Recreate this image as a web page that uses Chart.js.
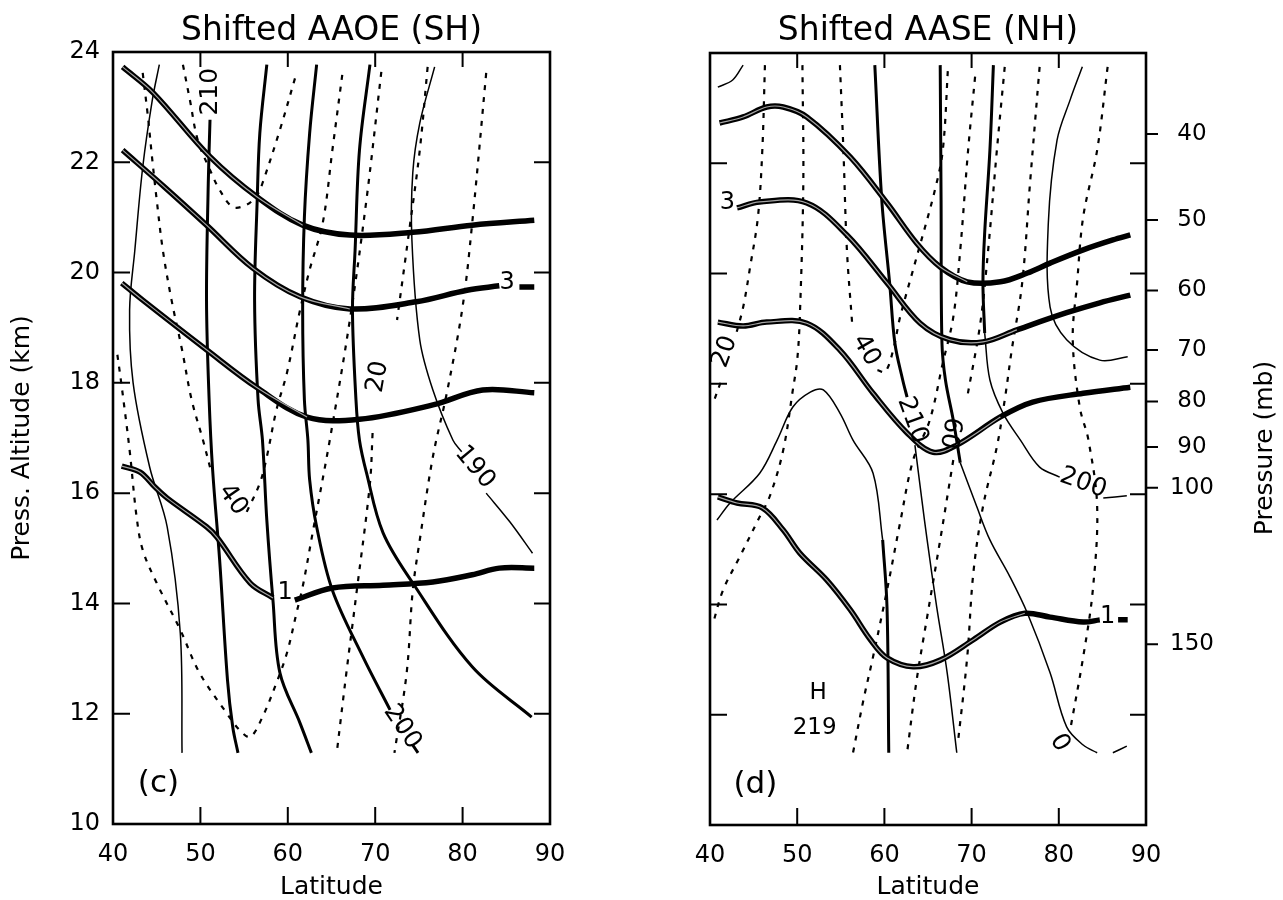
<!DOCTYPE html>
<html lang="en">
<head>
<meta charset="UTF-8">
<title>Shifted AAOE (SH) / Shifted AASE (NH)</title>
<script src="https://cdn.jsdelivr.net/npm/chart.js@4.4.1/dist/chart.umd.min.js"></script>
<style>
    html, body { margin: 0; padding: 0; background: #fff; }
    body { width: 1283px; height: 900px; position: relative; overflow: hidden; }
    .panel { position: absolute; top: 0; height: 900px; }
    #wrapC { left: 0; width: 640px; }
    #wrapD { left: 640px; width: 643px; }
</style>
</head>
<body>
<div class="panel" id="wrapC"><canvas id="chartC" width="640" height="900"></canvas></div>
<div class="panel" id="wrapD"><canvas id="chartD" width="643" height="900"></canvas></div>
<script>
// axis ticks
const altTicks = [10, 12, 14, 16, 18, 20, 22, 24];
const latTicks = [40, 50, 60, 70, 80, 90];
const pressTicks = [40, 50, 60, 70, 80, 90, 100, 150];

// ---- (c) Shifted AAOE (SH), points are [latitude, pressure altitude km], null = gap
const sh_q1 = [[41.0,16.49],[43.1,16.38],[44.8,16.11],[46.2,15.91],[50.7,15.39],[51.9,15.20],[55.7,14.37],[58.3,14.10],null,[60.8,14.06],[65.1,14.28],[70.9,14.33],[76.6,14.39],[81.1,14.52],[84.2,14.64],[88.2,14.64]];
const sh_q2 = [[41.0,19.81],[43.4,19.50],[50.7,18.60],[56.5,17.91],[62.2,17.38],[68.2,17.34],[76.6,17.60],[82.3,17.87],[88.2,17.82]];
const sh_q3 = [[41.1,22.22],[45.9,21.55],[50.7,20.86],[56.0,20.08],[61.4,19.56],[67.1,19.34],[74.7,19.47],[80.5,19.68],[84.2,19.76],null,[86.5,19.74],[88.2,19.74]];
const sh_q4 = [[41.1,23.73],[44.6,23.26],[51.1,22.10],[56.5,21.37],[61.7,20.86],[67.1,20.68],[74.3,20.73],[81.1,20.86],[88.2,20.95]];

const sh_t1 = [[45.3,23.77],[44.5,23.13],[43.4,21.91],[42.5,20.41],[41.9,19.32],[42.3,18.0],[44.2,16.47],[46.2,15.39],[47.7,13.46],[47.9,11.29]];
const sh_t2 = [[51.1,22.77],[50.9,21.62],[50.7,19.50],[51.0,17.69],[51.4,16.42],[52.2,14.79],[53.1,12.61],[53.7,11.76],[54.3,11.29]];
const sh_t3 = [[57.6,23.77],[56.8,22.53],[56.5,21.32],[56.2,19.50],[56.6,17.69],[57.1,16.96],[57.6,15.51],[58.3,14.06],[59.1,12.74],[61.4,11.83],[62.7,11.29]];
const sh_t4 = [[63.3,23.77],[62.5,22.53],[61.9,21.01],[61.7,19.32],[61.9,17.69],[62.3,16.96],[62.5,16.24],[63.3,15.39],[65.1,14.24],[68.6,13.03],[71.7,12.07],null,[74.3,11.43],[74.9,11.29]];
const sh_t5 = [[69.4,23.77],[68.2,22.22],[67.7,20.41],[67.4,19.32],[67.8,17.69],[68.2,16.96],[69.0,16.37],[70.9,15.28],[74.3,14.37],[81.1,12.85],[87.9,11.94]];
const sh_t6 = [[76.8,23.73],[75.1,22.71],[74.3,21.81],[74.2,20.59],[75.1,18.78],[76.6,17.87],[78.9,16.96],[79.9,16.75],null,[82.7,16.0],[85.4,15.48],[88.0,14.91]];

const sh_w1 = [[48.0,23.77],[48.8,23.13],[49.7,22.40],[51.1,21.86],[52.2,21.50],[53.7,21.19],[55.3,21.23],[56.5,21.41],[57.1,21.62],[59.1,22.59],[61.0,23.62]];
const sh_w2 = [[43.4,23.62],[44.0,22.82],[44.5,22.04],[45.0,21.32],[45.7,20.41],[46.7,19.50],[47.9,18.60],[49.0,17.69],[50.3,16.96],[51.1,16.47],null,[55.3,15.66],[56.8,16.18],[57.6,16.66],[58.7,17.51],[59.9,18.18],[61.4,19.32],[62.5,20.05],[64.0,20.90],[65.1,22.22],[66.3,23.67]];
const sh_w3 = [[40.5,18.51],[41.0,17.93],[41.9,16.78],[42.7,15.57],[43.4,14.97],[45.0,14.37],[47.7,13.52],[49.9,12.74],[53.0,12.01],[54.5,11.70],[55.7,11.58],[57.1,11.94],[58.7,12.56],[59.9,13.10],[61.0,13.83],[61.7,14.30],[62.9,15.33],[64.8,16.96],[67.1,19.14],[69.0,21.32],[70.7,23.64]];
const sh_w4 = [[76.0,23.73],[75.1,22.22],[73.9,20.77],[72.5,19.14],null,[69.7,17.09],[69.4,16.18],[67.9,14.24],[66.7,12.74],[65.6,11.29]];
const sh_w5 = [[82.7,23.62],[81.1,20.90],[80.0,19.38],[78.2,17.82],[76.6,16.66],[75.1,15.15],[74.3,14.24],[73.6,12.74],[72.2,11.29]];

const sh_labels = [['3',85.1,19.81],['1',59.7,14.19],['210',51.1,23.28],['40',53.7,15.88],['20',70.3,18.11],['190',81.4,16.47],['200',73.1,11.76]];

// ---- (d) Shifted AASE (NH)
const nh_q1 = [[40.9,15.95],[43.1,15.84],[46.0,15.75],[48.4,15.35],[50.3,14.93],[53.4,14.44],[56.1,13.90],[58.4,13.36],[60.3,13.03],[63.3,12.87],[66.4,12.99],[70.2,13.36],[73.3,13.68],[76.1,13.84],[79.0,13.77],[82.8,13.68],[84.7,13.72],null,[86.8,13.72],[87.9,13.72]];
const nh_q2 = [[40.9,19.12],[43.8,19.05],[46.5,19.12],[51.1,19.10],[54.9,18.61],[58.7,17.83],[62.6,17.11],[65.6,16.76],[68.3,16.89],[73.3,17.40],[77.0,17.67],[82.8,17.83],[88.2,17.94]];
const nh_q3 = [[43.1,21.19],[45.7,21.30],[51.1,21.28],[55.7,20.70],[60.3,19.83],[64.1,19.10],[67.5,18.80],[71.3,18.76],[75.2,18.98],[80.9,19.29],[84.7,19.47],[88.2,19.61]];
const nh_q4 = [[41.1,22.73],[43.8,22.84],[46.5,23.02],[48.4,23.02],[51.1,22.84],[56.1,22.11],[60.3,21.28],[63.7,20.55],[66.4,20.12],[69.5,19.85],[73.3,19.85],[76.4,20.01],[79.0,20.19],[82.8,20.43],[86.2,20.61],[88.2,20.70]];

const nh_t1 = [[58.9,23.78],[59.7,21.33],[60.6,19.83],[61.2,18.74],[62.1,18.07],[62.6,17.76]];
const nh_t2 = [[63.5,16.89],[64.3,15.89],[64.9,15.17],[66.0,13.95],[67.2,12.76],[68.3,11.31]];
const nh_t3 = [[66.4,23.78],[66.5,21.33],[66.6,18.74],[67.0,18.07],[67.9,17.34],[68.7,16.57]];
const nh_t4 = [[68.7,16.57],[70.6,15.77],[72.1,15.17],[74.4,14.50],[76.4,13.84],[79.0,12.76],[80.9,11.78],[82.8,11.45],[84.4,11.31],null,[86.2,11.31],[87.8,11.43]];
const nh_t5 = [[72.5,23.78],[72.1,22.24],[71.5,20.74],[71.3,19.83],[71.5,18.92]];
const nh_t6 = [[71.5,18.92],[72.1,18.07],[73.6,17.47],[75.6,16.98],[77.8,16.49],[80.1,16.31],null,[85.1,15.93],[87.8,15.97]];
const nh_t7 = [[82.7,23.75],[81.3,23.15],[79.8,22.42],[78.8,20.92],[79.0,19.39],[80.9,18.80],[84.7,18.43],[87.9,18.49]];
const nh_t8 = [[40.8,15.53],[42.3,15.84],[45.7,16.38],[47.7,16.98],[49.5,17.58],[51.5,17.85],[53.0,17.89],[54.9,17.47],[56.4,16.98],[58.7,16.38],[59.8,15.17]];
const nh_t9 = [[59.8,15.17],[60.3,13.95],[60.5,11.31]];
const nh_t10 = [[40.9,23.38],[42.6,23.51],[43.8,23.78]];

const nh_w1 = [[46.3,23.78],[46.0,22.24],[45.5,21.03],[44.6,20.12],[43.8,19.39],[42.9,18.85],null,[41.2,18.02],[40.5,17.71]];
const nh_w2 = [[50.6,23.78],[50.7,21.64],[50.3,19.21],[50.0,18.43],[49.5,17.89],[48.4,16.80],[46.9,15.98],[45.7,15.59],[43.4,14.86],[41.5,14.26],[40.3,13.63]];
const nh_w3 = [[54.9,23.78],[55.3,22.24],[55.7,20.43],[56.3,19.10],null,[59.2,18.25],[60.1,18.22],[61.0,18.61],[61.8,19.21],[63.7,20.30],[65.8,21.52],[66.7,22.24],[67.3,23.75]];
const nh_w4 = [[70.4,23.57],[69.6,22.24],[68.7,20.43],[67.9,19.21],[66.7,18.38],[65.2,17.34],[63.3,16.62],[61.8,15.48],[60.3,14.26],[58.7,13.05],[57.6,12.27],[56.4,11.31]];
const nh_w5 = [[73.8,23.75],[72.9,22.24],[71.9,20.43],[71.0,19.10],[69.5,17.76],null,[67.9,16.62],[66.4,15.17],[64.9,13.77],[63.7,12.63],[62.6,11.31]];
const nh_w6 = [[77.8,23.75],[76.7,21.64],[75.8,19.83],[74.6,18.61],[73.8,17.71],[72.9,16.86],[71.3,15.77],[70.2,14.57],[69.5,13.05],[68.4,11.45]];
const nh_w7 = [[85.6,23.75],[84.4,22.24],[82.8,21.03],[82.1,19.83],[81.6,18.80],[82.4,17.58],[83.4,16.98],[84.4,15.77],[83.9,14.26],[82.8,13.05],[81.3,11.72]];

const nh_labels = [['3',42.0,21.28],['1',85.6,13.77],['20',41.7,18.58],['40',57.9,18.61],['210',63.2,17.34],['60',67.5,17.11],['200',82.8,16.20],['0',80.1,11.49],['H',52.4,12.39],['219',52.0,11.76]];

// label rotations (deg) and sizes, same order as the label lists
const shRot = [0, 0, -90, 55, -80, 50, 56];
const shSize = [24, 24, 25, 25, 25, 25, 25];
const nhRot = [0, 0, -70, 60, 70, 100, 20, 60, 0, 0];
const nhSize = [24, 24, 25, 25, 25, 25, 25, 25, 23, 23];

// latitude where the outlined (double) look of each thick contour stops
const shOutlineTo = [58.3, 62.2, 67.1, 61.7];
const nhOutlineTo = [76.1, 73.3, 77.0, 69.5];

const FONT = '"DejaVu Sans", sans-serif';

const lineStyles = {
    pv:    { borderColor: '#000', borderWidth: 5.5 },
    pvIn:  { borderColor: '#a5a5a5', borderWidth: 1.2 },
    thick: { borderColor: '#000', borderWidth: 3 },
    thin:  { borderColor: '#000', borderWidth: 1.5 },
    dash:  { borderColor: '#000', borderWidth: 2.2, borderDash: [5, 7] }
};

function toPts(arr) {
    return arr.map(p => p ? { x: p[0], y: p[1] } : { x: null, y: null });
}

function line(arr, kind) {
    return Object.assign({
        data: toPts(arr), showLine: true, pointRadius: 0, fill: false,
        tension: 0.35, borderJoinStyle: 'round', borderCapStyle: 'butt'
    }, lineStyles[kind]);
}

function pvLines(list, cut) {
    return list.flatMap((a, i) => [
        line(a.filter(p => p && p[0] <= cut[i]), 'pvIn'),
        line(a, 'pv')
    ]);
}

// frame, inside ticks, titles and contour labels
function decoPlugin(cfg) {
    return {
        id: 'deco',
        afterDatasetsDraw(chart) {
            const { ctx, chartArea: a, scales } = chart;
            const sx = scales.x, sy = scales.y;
            ctx.save();
            ctx.strokeStyle = '#000';
            ctx.lineWidth = 2.6;
            ctx.strokeRect(a.left, a.top, a.right - a.left, a.bottom - a.top);

            ctx.lineWidth = 2;
            ctx.beginPath();
            altTicks.slice(1, -1).forEach(v => {
                const py = sy.getPixelForValue(v);
                ctx.moveTo(a.left, py); ctx.lineTo(a.left + 17, py);
                ctx.moveTo(a.right, py); ctx.lineTo(a.right - 16, py);
            });
            latTicks.slice(1, -1).forEach(v => {
                const px = sx.getPixelForValue(v);
                ctx.moveTo(px, a.bottom); ctx.lineTo(px, a.bottom - 17);
                ctx.moveTo(px, a.top); ctx.lineTo(px, a.top + 15);
            });
            if (scales.y2) {
                scales.y2.ticks.forEach(t => {
                    const py = scales.y2.getPixelForValue(t.value);
                    ctx.moveTo(a.right, py); ctx.lineTo(a.right + 12, py);
                });
            }
            ctx.stroke();

            ctx.fillStyle = '#000';
            ctx.textAlign = 'center';
            ctx.textBaseline = 'middle';
            cfg.labels.forEach((l, i) => {
                ctx.save();
                ctx.font = cfg.size[i] + 'px ' + FONT;
                ctx.translate(sx.getPixelForValue(l[1]), sy.getPixelForValue(l[2]));
                ctx.rotate(cfg.rot[i] * Math.PI / 180);
                ctx.fillText(l[0], 0, 0);
                ctx.restore();
            });

            // panel letter
            ctx.font = '31px ' + FONT;
            ctx.fillText(cfg.letter, sx.getPixelForValue(45.2), sy.getPixelForValue(10.72));

            // title
            ctx.font = '33px ' + FONT;
            ctx.textBaseline = 'alphabetic';
            ctx.fillText(cfg.title, (a.left + a.right) / 2, 40);

            // axis titles
            ctx.font = '25px ' + FONT;
            ctx.textBaseline = 'middle';
            ctx.fillText('Latitude', (a.left + a.right) / 2, 887);
            if (cfg.yTitle) {
                ctx.save();
                ctx.translate(cfg.yTitle[1], cfg.yTitle[2]);
                ctx.rotate(-Math.PI / 2);
                ctx.fillText(cfg.yTitle[0], 0, 0);
                ctx.restore();
            }
            ctx.restore();
        }
    };
}

const tickFont = { family: FONT, size: 24 };

function xScale(h) {
    return {
        type: 'linear', min: 40, max: 90,
        afterBuildTicks: s => { s.ticks = latTicks.map(v => ({ value: v })); },
        ticks: { color: '#000', font: tickFont, padding: 16, maxRotation: 0, autoSkip: false },
        grid: { display: false, drawTicks: false },
        border: { display: false },
        afterFit: s => { s.height = h; }
    };
}

function yScale(w, showLabels) {
    return {
        type: 'linear', position: 'left', min: 10, max: 24,
        afterBuildTicks: s => { s.ticks = altTicks.map(v => ({ value: v })); },
        ticks: { display: showLabels, color: '#000', font: tickFont, padding: 13, autoSkip: false },
        grid: { display: false, drawTicks: false },
        border: { display: false },
        afterFit: s => { s.width = w; }
    };
}

const baseOptions = {
    responsive: false,
    animation: false,
    events: [],
    plugins: { legend: { display: false }, tooltip: { enabled: false } }
};

// (c)
new Chart(document.getElementById('chartC'), {
    type: 'scatter',
    data: {
        datasets: [
            ...pvLines([sh_q1, sh_q2, sh_q3, sh_q4], shOutlineTo),
            line(sh_t2, 'thick'), line(sh_t3, 'thick'), line(sh_t4, 'thick'), line(sh_t5, 'thick'),
            line(sh_t1, 'thin'), line(sh_t6, 'thin'),
            line(sh_w1, 'dash'), line(sh_w2, 'dash'), line(sh_w3, 'dash'), line(sh_w4, 'dash'), line(sh_w5, 'dash')
        ]
    },
    options: Object.assign({}, baseOptions, {
        layout: { padding: { top: 52, right: 90, left: 0, bottom: 0 } },
        scales: { x: xScale(76), y: yScale(113, true) }
    }),
    plugins: [decoPlugin({
        title: 'Shifted AAOE (SH)', letter: '(c)',
        labels: sh_labels, rot: shRot, size: shSize,
        yTitle: ['Press. Altitude (km)', 22, 438]
    })]
});

// (d)
new Chart(document.getElementById('chartD'), {
    type: 'scatter',
    data: {
        datasets: [
            ...pvLines([nh_q1, nh_q2, nh_q3, nh_q4], nhOutlineTo),
            line(nh_t1, 'thick'), line(nh_t3, 'thick'), line(nh_t5, 'thick'), line(nh_t9, 'thick'),
            line(nh_t2, 'thin'), line(nh_t4, 'thin'), line(nh_t6, 'thin'), line(nh_t7, 'thin'),
            line(nh_t8, 'thin'), line(nh_t10, 'thin'),
            line(nh_w1, 'dash'), line(nh_w2, 'dash'), line(nh_w3, 'dash'), line(nh_w4, 'dash'),
            line(nh_w5, 'dash'), line(nh_w6, 'dash'), line(nh_w7, 'dash')
        ]
    },
    options: Object.assign({}, baseOptions, {
        layout: { padding: { top: 53, right: 0, left: 0, bottom: 0 } },
        scales: {
            x: xScale(75),
            y: yScale(70, false),
            y2: {
                type: 'linear', position: 'right', min: 10, max: 24,
                // pressure altitude z = 7 ln(1000 / p)
                afterBuildTicks: s => { s.ticks = pressTicks.map(p => ({ value: 7 * Math.log(1000 / p) })); },
                ticks: {
                    color: '#000', font: { family: FONT, size: 23 }, padding: 24,
                    crossAlign: 'center', autoSkip: false,
                    callback: (v, i) => pressTicks[i]
                },
                grid: { display: false, drawTicks: false },
                border: { display: false },
                afterFit: s => { s.width = 137; }
            }
        }
    }),
    plugins: [decoPlugin({
        title: 'Shifted AASE (NH)', letter: '(d)',
        labels: nh_labels, rot: nhRot, size: nhSize,
        yTitle: ['Pressure (mb)', 625, 448]
    })]
});
</script>
</body>
</html>
